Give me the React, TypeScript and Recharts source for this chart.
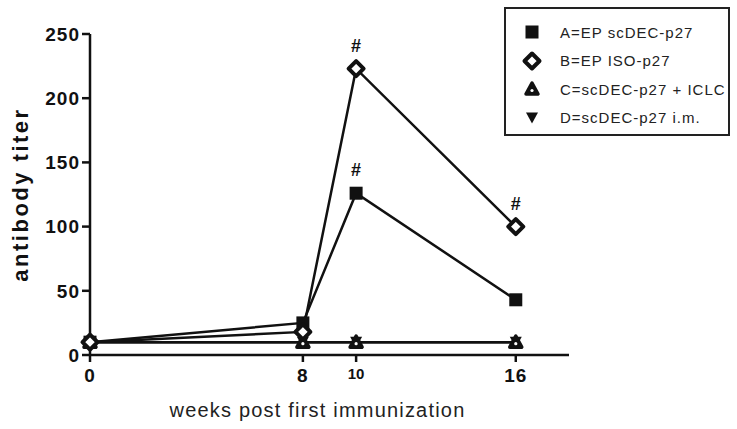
import { LineChart, Line, XAxis, YAxis, LabelList } from 'recharts'

const weeks = [0, 8, 10, 16]
const seriesA = [10, 25, 126, 43]
const seriesB = [10, 18, 223, 100]
const seriesC = [10, 10, 10, 10]
const seriesD = [10, 10, 10, 10]
const sigA = ['', '', '#', '']
const sigB = ['', '', '#', '#']
const xTicks = [0, 8, 10, 16]
const yTicks = [0, 50, 100, 150, 200, 250]

const LEGEND = [
  { key: 'A', name: 'A=EP scDEC-p27', shape: 'square' },
  { key: 'B', name: 'B=EP ISO-p27', shape: 'diamond' },
  { key: 'C', name: 'C=scDEC-p27 + ICLC', shape: 'up' },
  { key: 'D', name: 'D=scDEC-p27 i.m.', shape: 'down' },
]

const data = weeks.map((w, i) => ({
  week: w,
  A: seriesA[i],
  B: seriesB[i],
  C: seriesC[i],
  D: seriesD[i],
  sigA: sigA[i],
  sigB: sigB[i],
}))

const FONT = '"Liberation Sans", Arial, sans-serif'

function Marker({ shape, cx, cy }: { shape: string; cx: number; cy: number }) {
  if (shape === 'square') {
    return <rect x={cx - 6.5} y={cy - 6.5} width={13} height={13} fill="#111" />
  }
  if (shape === 'diamond') {
    return (
      <polygon
        points={`${cx},${cy - 7.5} ${cx + 7.5},${cy} ${cx},${cy + 7.5} ${cx - 7.5},${cy}`}
        fill="#fff"
        stroke="#111"
        strokeWidth={4}
        strokeLinejoin="round"
      />
    )
  }
  if (shape === 'up') {
    return (
      <g>
        <polygon
          points={`${cx},${cy - 6} ${cx + 6},${cy + 5} ${cx - 6},${cy + 5}`}
          fill="#111"
          stroke="#111"
          strokeWidth={3.5}
          strokeLinejoin="round"
        />
        <circle cx={cx} cy={cy + 1.5} r={1.6} fill="#fff" />
      </g>
    )
  }
  return (
    <polygon
      points={`${cx - 6},${cy - 5.5} ${cx + 6},${cy - 5.5} ${cx},${cy + 5.5}`}
      fill="#111"
    />
  )
}

const dotFor = (shape: string) => (props: any) => (
  <Marker key={`${shape}-${props.index}`} shape={shape} cx={props.cx} cy={props.cy} />
)

const hashLabel = (props: any) => {
  const { x, y, value } = props
  if (!value) return null
  return (
    <text x={x} y={y - 17} textAnchor="middle" fontFamily={FONT} fontWeight="bold" fontSize={18} fill="#111">
      {value}
    </text>
  )
}

const XTick = (props: any) => {
  const { x, y, payload } = props
  const small = payload.value === 10
  return (
    <text
      x={x}
      y={y + (small ? 15 : 18)}
      textAnchor="middle"
      fontFamily={FONT}
      fontWeight="bold"
      fontSize={small ? 15 : 19}
      letterSpacing={small ? 0 : 1}
      fill="#111"
    >
      {payload.value}
    </text>
  )
}

const XTitle = (props: any) => {
  const { viewBox } = props
  return (
    <text
      x={viewBox.x + viewBox.width / 2 - 12}
      y={viewBox.y + viewBox.height - 12}
      textAnchor="middle"
      fontFamily={FONT}
      fontSize={20}
      letterSpacing={1.2}
      fill="#222"
    >
      weeks post first immunization
    </text>
  )
}

const LegendBox = () => (
  <div
    style={{
      position: 'absolute',
      left: 504,
      top: 7,
      width: 226,
      height: 129,
      border: '2px solid #222',
      boxSizing: 'border-box',
      background: '#fff',
      paddingTop: 9,
    }}
  >
    {LEGEND.map(l => (
      <div key={l.key} style={{ display: 'flex', alignItems: 'center', height: 28.5 }}>
        <svg width={22} height={22} style={{ marginLeft: 15 }}>
          <Marker shape={l.shape} cx={11} cy={11} />
        </svg>
        <span
          style={{
            marginLeft: 17,
            fontFamily: FONT,
            fontSize: 15,
            letterSpacing: 1,
            whiteSpace: 'nowrap',
            color: '#222',
          }}
        >
          {l.name}
        </span>
      </div>
    ))}
  </div>
)

export default function App() {
  return (
    <div style={{ position: 'absolute', left: 0, top: 0, width: 737, height: 429, background: '#fff' }}>
      <LineChart width={737} height={429} data={data} margin={{ top: 34, right: 168, left: 0, bottom: 0 }}>
        <XAxis
          dataKey="week"
          type="number"
          domain={[0, 18]}
          ticks={xTicks}
          tick={<XTick />}
          tickSize={7}
          height={74}
          axisLine={{ stroke: '#111', strokeWidth: 2.5 }}
          tickLine={{ stroke: '#111', strokeWidth: 2.5 }}
          label={<XTitle />}
        />
        <YAxis
          domain={[0, 250]}
          ticks={yTicks}
          width={90}
          tickSize={8}
          axisLine={{ stroke: '#111', strokeWidth: 2.5 }}
          tickLine={{ stroke: '#111', strokeWidth: 2.5 }}
          tick={{ fontFamily: FONT, fontWeight: 'bold', fontSize: 19, letterSpacing: 1, fill: '#111' }}
          label={{
            value: 'antibody titer',
            angle: -90,
            position: 'insideLeft',
            offset: 20,
            style: { fontFamily: FONT, fontWeight: 'bold', fontSize: 22, letterSpacing: 2.5, fill: '#111', textAnchor: 'middle' },
          }}
        />
        <Line dataKey="D" stroke="#111" strokeWidth={2.5} dot={dotFor('down')} isAnimationActive={false} />
        <Line dataKey="C" stroke="#111" strokeWidth={2.5} dot={dotFor('up')} isAnimationActive={false} />
        <Line dataKey="A" stroke="#111" strokeWidth={2.5} dot={dotFor('square')} isAnimationActive={false}>
          <LabelList dataKey="sigA" content={hashLabel} />
        </Line>
        <Line dataKey="B" stroke="#111" strokeWidth={2.5} dot={dotFor('diamond')} isAnimationActive={false}>
          <LabelList dataKey="sigB" content={hashLabel} />
        </Line>
      </LineChart>
      <LegendBox />
    </div>
  )
}
